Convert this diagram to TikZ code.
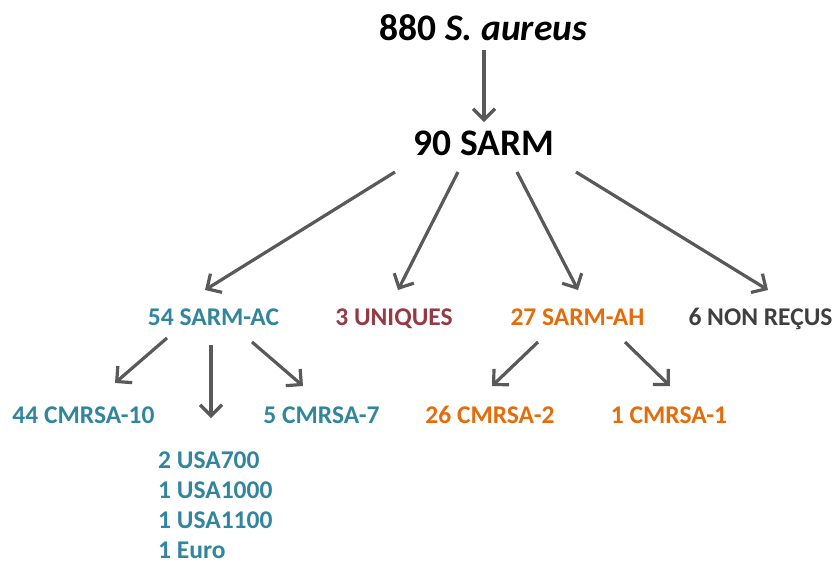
\documentclass[tikz,border=0pt]{standalone}
\usepackage{fontspec}
\setmainfont{Carlito}
\usetikzlibrary{arrows.meta}
\definecolor{teal}{HTML}{31859C}
\definecolor{wine}{HTML}{953A45}
\definecolor{orng}{HTML}{E46C0A}
\definecolor{dgray}{HTML}{3F3F3F}
\definecolor{agray}{HTML}{595959}
\tikzset{
  big/.style={inner sep=0pt, anchor=base, font=\fontsize{37.5}{40}\selectfont\bfseries, text=black},
  lbl/.style={inner sep=0pt, anchor=base, font=\fontsize{25.5}{31}\selectfont\bfseries},
  lst/.style={inner sep=0pt, anchor=base west, font=\fontsize{25.5}{31}\selectfont\bfseries, text=teal},
  arr/.style={draw=agray, line width=3.2pt, -{Straight Barb[length=11pt,width=22pt]}}
}
\begin{document}
\begin{tikzpicture}[x=1pt,y=-1pt]
\useasboundingbox (0,0) rectangle (835,566);
\node[big] (top) at (483.5,40) {880 \textit{S. aureus}};
\node[big] (sarm) at (484,155) {90 SARM};
\node[lbl, text=teal] (ac) at (213.5,325) {54 SARM-AC};
\node[lbl, text=wine] (uni) at (394,325) {3 UNIQUES};
\node[lbl, text=orng] (ah) at (577.5,325) {27 SARM-AH};
\node[lbl, text=dgray] (nr) at (760.5,325) {6 NON REÇUS};
\node[lbl, text=teal] (c10) at (83.5,423) {44 CMRSA-10};
\node[lbl, text=teal] (c7) at (321.5,423) {5 CMRSA-7};
\node[lbl, text=orng] (c2) at (490,423) {26 CMRSA-2};
\node[lbl, text=orng] (c1) at (669,423) {1 CMRSA-1};
\node[lst] (l1) at (158,468) {2 USA700};
\node[lst] (l2) at (158,498) {1 USA1000};
\node[lst] (l3) at (158,528) {1 USA1100};
\node[lst] (l4) at (158,558) {1 Euro};
\draw[arr] ([shift={(0.5,10)}]top.base) -- ([shift={(0,-33)}]sarm.base);
\draw[arr] ([shift={(-89,17)}]sarm.base) -- ([shift={(-8.5,-35)}]ac.base);
\draw[arr] ([shift={(-26,17)}]sarm.base) -- ([shift={(4,-35)}]uni.base);
\draw[arr] ([shift={(33,17)}]sarm.base) -- ([shift={(0.5,-35)}]ah.base);
\draw[arr] ([shift={(92,17)}]sarm.base) -- ([shift={(7.5,-35)}]nr.base);
\draw[arr] ([shift={(-46.5,13)}]ac.base) -- ([shift={(31.5,-40)}]c10.base);
\draw[arr] ([shift={(-2.5,20)}]ac.base) -- ([shift={(53,-50)}]l1.base west);
\draw[arr] ([shift={(38.5,17)}]ac.base) -- ([shift={(-18.5,-37)}]c7.base);
\draw[arr] ([shift={(-39.5,17)}]ah.base) -- ([shift={(2,-37)}]c2.base);
\draw[arr] ([shift={(47.5,17)}]ah.base) -- ([shift={(1,-37)}]c1.base);
\end{tikzpicture}
\end{document}
